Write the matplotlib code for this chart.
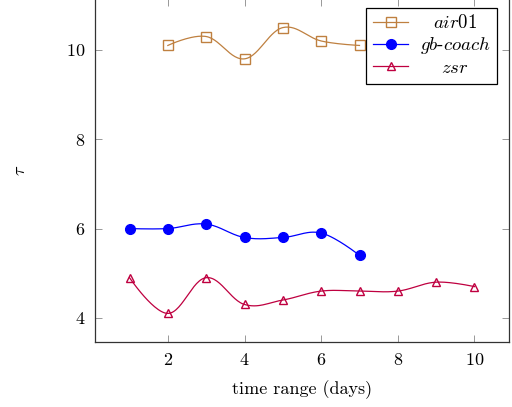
import numpy as np
import matplotlib
matplotlib.use("Agg")
import matplotlib.pyplot as plt

plt.rcParams['font.family'] = 'cmr10'
plt.rcParams['mathtext.fontset'] = 'cm'
plt.rcParams['axes.formatter.use_mathtext'] = True

air_x = [2, 3, 4, 5, 6, 7]
air_y = [10.1, 10.3, 9.8, 10.5, 10.2, 10.1]
gb_x = [1, 2, 3, 4, 5, 6, 7]
gb_y = [6.0, 6.0, 6.1, 5.8, 5.8, 5.9, 5.4]
zsr_x = [1, 2, 3, 4, 5, 6, 7, 8, 9, 10]
zsr_y = [4.9, 4.1, 4.9, 4.3, 4.4, 4.6, 4.6, 4.6, 4.8, 4.7]

labels = [r'$\mathit{air01}$', r'$\mathit{gb}$-$\mathit{coach}$', r'$\mathit{zsr}$']
colors = ['#BF8040', '#0000FF', '#BF0040']
xticks = [2, 4, 6, 8, 10]
yticks = [4, 6, 8, 10]


def smooth(x, y, tension=0.55, n=30):
    x = np.asarray(x, float); y = np.asarray(y, float)
    px, py = [x[0]], [y[0]]
    k = len(x)
    for i in range(k - 1):
        p0 = np.array([x[i], y[i]]); p3 = np.array([x[i + 1], y[i + 1]])
        prev = np.array([x[i - 1], y[i - 1]]) if i > 0 else p0
        nxt = np.array([x[i + 2], y[i + 2]]) if i + 2 < k else p3
        c1 = p0 + tension / 3.0 * (p3 - prev) if i > 0 else p0
        c2 = p3 - tension / 3.0 * (nxt - p0) if i + 2 < k else p3
        t = np.linspace(0, 1, n)[1:, None]
        pts = ((1 - t) ** 3) * p0 + 3 * ((1 - t) ** 2) * t * c1 + 3 * (1 - t) * t ** 2 * c2 + t ** 3 * p3
        px.extend(pts[:, 0]); py.extend(pts[:, 1])
    return np.array(px), np.array(py)


fig = plt.figure(figsize=(5.12, 4.07), dpi=100)
ax = fig.add_axes([95 / 512, (407 - 342) / 407, 414 / 512, 343 / 407])

series = [(air_x, air_y, 's', 'none', 7.5), (gb_x, gb_y, 'o', None, 7), (zsr_x, zsr_y, '^', 'none', 6)]
handles = []
for (xs, ys, m, fc, ms), lab, c in zip(series, labels, colors):
    sx, sy = smooth(xs, ys)
    ax.plot(sx, sy, color=c, lw=0.9, zorder=2)
    ax.plot(xs, ys, linestyle='none', marker=m, ms=ms, mfc=(c if fc is None else 'none'),
            mec=c, mew=1.0, zorder=3)
    h, = ax.plot([], [], color=c, lw=0.9, marker=m, ms=ms, mfc=(c if fc is None else 'none'),
                 mec=c, mew=1.0)
    h.set_label(lab)
    handles.append(h)

ax.set_xlim(0.1, 10.9)
ax.set_ylim(3.46, 11.14)
ax.set_xticks(xticks)
ax.set_yticks(yticks)
ax.tick_params(direction='in', top=True, right=True, length=5, width=0.6, color='#888888',
               labelsize=13, pad=7)
for s in ax.spines.values():
    s.set_linewidth(0.9)
    s.set_color('#333333')

ax.set_xlabel('time range (days)', fontsize=13, labelpad=9)
ax.set_ylabel(r'$\tau$', fontsize=13)
ax.yaxis.set_label_coords(-0.162, 0.5)

leg = ax.legend(handles=handles, loc='upper right', bbox_to_anchor=(0.971, 0.974),
                borderaxespad=0, fontsize=13.5, frameon=True, fancybox=False, edgecolor='black',
                framealpha=1, handlelength=1.9, borderpad=0.35, labelspacing=0.15,
                handletextpad=0.6)
leg.get_frame().set_linewidth(0.9)

# center legend texts in their column
fig.canvas.draw()
r = fig.canvas.get_renderer()
texts = leg.get_texts()
widths = [t.get_window_extent(r).width for t in texts]
mw = max(widths)
for t, w in zip(texts, widths):
    t.set_x((mw - w) / 2.0)

fig.savefig('out.png', dpi=100)
